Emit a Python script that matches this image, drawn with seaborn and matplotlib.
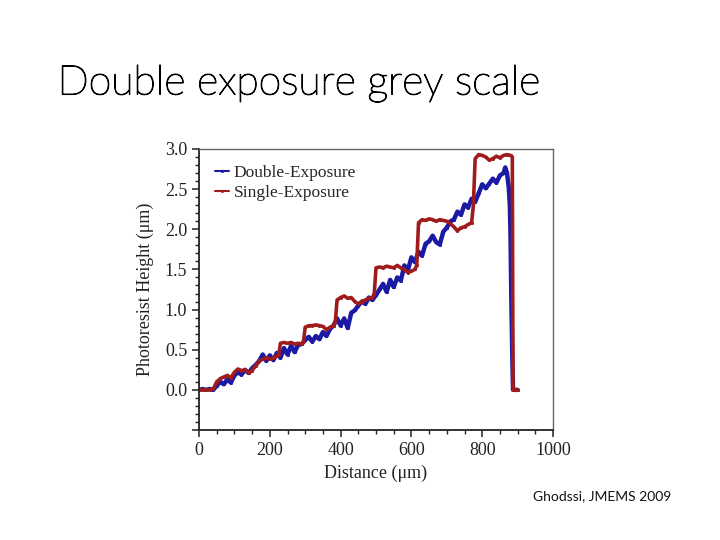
import numpy as np
import pandas as pd
import matplotlib
matplotlib.use("Agg")
import matplotlib.pyplot as plt
import matplotlib.patheffects as pe
from matplotlib.ticker import MultipleLocator
import seaborn as sns

# 讀圖估計的數據 (distance µm, height µm)
double_x = [0, 10, 20, 30, 40, 50, 60, 70, 80, 90,
            100, 110, 120, 130, 140, 150, 160, 170, 180, 190,
            200, 210, 220, 230, 240, 250, 260, 270, 280, 290,
            300, 310, 320, 330, 340, 350, 360, 370, 380, 390,
            400, 410, 420, 430, 440, 450, 460, 470, 480, 490,
            500, 510, 520, 530, 540, 550, 560, 570, 580, 590,
            600, 610, 620, 630, 640, 650, 660, 670, 680, 690,
            700, 710, 720, 730, 740, 750, 760, 770, 780, 790,
            800, 810, 820, 830, 840, 850, 860, 865, 870, 875,
            878, 880, 882, 885, 887, 890, 895, 900]
double_y = [0.00, 0.01, 0.00, 0.01, 0.00, 0.05, 0.10, 0.07, 0.13, 0.09,
            0.18, 0.22, 0.19, 0.25, 0.21, 0.27, 0.31, 0.36, 0.44, 0.36,
            0.43, 0.37, 0.46, 0.40, 0.52, 0.44, 0.55, 0.47, 0.56, 0.57,
            0.62, 0.66, 0.60, 0.67, 0.63, 0.72, 0.67, 0.76, 0.80, 0.89,
            0.80, 0.89, 0.77, 0.96, 0.99, 1.05, 1.10, 1.07, 1.15, 1.12,
            1.18, 1.25, 1.32, 1.22, 1.37, 1.28, 1.40, 1.36, 1.55, 1.49,
            1.65, 1.59, 1.72, 1.67, 1.82, 1.85, 1.92, 1.84, 1.81, 1.97,
            2.02, 2.10, 2.12, 2.22, 2.18, 2.31, 2.27, 2.38, 2.34, 2.45,
            2.56, 2.51, 2.57, 2.63, 2.58, 2.67, 2.70, 2.77, 2.70, 2.52,
            2.30, 1.90, 1.20, 0.40, 0.00, 0.00, 0.00, 0.00]

single_x = [0, 10, 20, 30, 40, 50, 60, 70, 80, 90,
            100, 110, 120, 130, 140, 150, 160, 170, 180, 190,
            200, 210, 220, 225, 230, 240, 250, 260, 270, 280,
            290, 295, 300, 310, 320, 330, 340, 350, 360, 370,
            380, 385, 390, 400, 410, 420, 430, 440, 450, 460,
            470, 480, 490, 495, 500, 510, 520, 530, 540, 550,
            560, 570, 580, 590, 600, 610, 615, 620, 630, 640,
            650, 660, 670, 680, 690, 700, 710, 720, 730, 740,
            750, 760, 770, 775, 780, 790, 800, 810, 820, 830,
            840, 850, 860, 870, 880, 885, 887, 890, 895, 900]
single_y = [0.00, 0.00, 0.00, 0.00, 0.01, 0.10, 0.14, 0.16, 0.18, 0.15,
            0.22, 0.26, 0.24, 0.25, 0.21, 0.24, 0.30, 0.36, 0.38, 0.40,
            0.38, 0.40, 0.42, 0.44, 0.58, 0.59, 0.58, 0.59, 0.57, 0.58,
            0.57, 0.60, 0.78, 0.80, 0.80, 0.81, 0.80, 0.79, 0.75, 0.78,
            0.80, 0.85, 1.12, 1.15, 1.17, 1.14, 1.15, 1.10, 1.07, 1.10,
            1.12, 1.14, 1.15, 1.20, 1.52, 1.53, 1.52, 1.54, 1.53, 1.52,
            1.55, 1.52, 1.50, 1.46, 1.48, 1.50, 1.55, 2.08, 2.12, 2.11,
            2.13, 2.12, 2.10, 2.12, 2.11, 2.10, 2.07, 2.03, 1.98, 2.02,
            2.03, 2.06, 2.08, 2.30, 2.88, 2.93, 2.92, 2.90, 2.86, 2.88,
            2.91, 2.89, 2.92, 2.93, 2.92, 2.90, 0.00, 0.00, 0.00, 0.00]

series_names = ["Double-Exposure", "Single-Exposure"]
series_colors = ["#1a1aa5", "#a01c1c"]
series_widths = [3.2, 2.6]

sns.set_theme(style="ticks")
plt.rcParams['font.family'] = ['Liberation Serif', 'DejaVu Serif']

fig = plt.figure(figsize=(7.2, 5.4), dpi=100)
fig.patch.set_facecolor("white")
ax = fig.add_axes([0.2764, 0.2037, 0.4917, 0.5204])

for name, xs, ys, col, lw in zip(series_names, [double_x, single_x],
                                 [double_y, single_y], series_colors,
                                 series_widths):
    sns.lineplot(x=xs, y=ys, color=col, label=name, sort=False,
                 estimator=None, linewidth=lw, marker="o", markersize=2.2,
                 markeredgewidth=0, ax=ax)

ax.set_xlim(0, 1000)
ax.set_ylim(-0.5, 3.0)
ax.xaxis.set_major_locator(MultipleLocator(200))
ax.xaxis.set_minor_locator(MultipleLocator(50))
ax.set_yticks([-0.5, 0.0, 0.5, 1.0, 1.5, 2.0, 2.5, 3.0])
ax.set_yticklabels(["", "0.0", "0.5", "1.0", "1.5", "2.0", "2.5", "3.0"])
ax.yaxis.set_minor_locator(MultipleLocator(0.1))
ax.tick_params(which="major", direction="out", length=5, width=1.1,
               labelsize=13, colors="#222222", top=False, right=False)
ax.tick_params(which="minor", direction="out", length=3, width=1.0,
               top=False, right=False)

for side in ["left", "bottom"]:
    ax.spines[side].set_color("#222222")
    ax.spines[side].set_linewidth(1.3)
for side in ["right", "top"]:
    ax.spines[side].set_color("#666666")
    ax.spines[side].set_linewidth(1.0)

ax.set_xlabel("Distance (μm)", fontsize=13, color="#222222", labelpad=4)
ax.set_ylabel("Photoresist Height (μm)", fontsize=13, color="#222222", labelpad=8)

leg = ax.legend(loc="upper left", frameon=False, fontsize=12.5,
                handlelength=0.8, handletextpad=0.3, borderaxespad=0.5,
                labelspacing=0.25)
for line in leg.get_lines():
    line.set_linewidth(1.5)

# 標題: Lato Light 加一點描邊, 接近 Calibri Light 的粗細
fig.text(0.080, 0.825, "Double exposure grey scale", fontsize=29.5,
         family=["Lato", "DejaVu Sans"], fontweight="light", color="black",
         path_effects=[pe.withStroke(linewidth=0.8, foreground="black")])
fig.text(0.74, 0.073, "Ghodssi, JMEMS 2009", fontsize=10,
         family=["Lato", "DejaVu Sans"], color="#111111")

plt.savefig("out.png", dpi=100)
plt.close()
